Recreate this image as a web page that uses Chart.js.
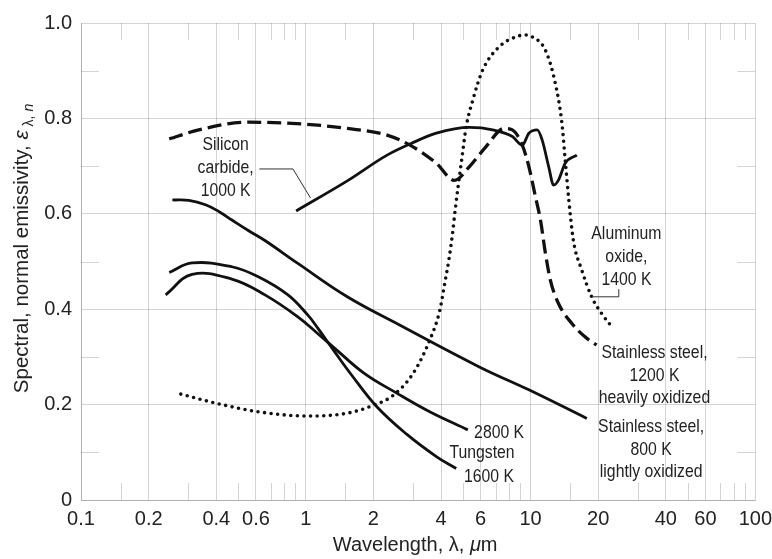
<!DOCTYPE html>
<html>
<head>
<meta charset="utf-8">
<script src="https://cdn.jsdelivr.net/npm/chart.js@4.4.1/dist/chart.umd.min.js"></script>
<style>
  html, body { margin: 0; padding: 0; background: #fff; overflow: hidden; }
  #wrap { width: 772px; height: 559px; }
</style>
</head>
<body>
<div id="wrap"><canvas id="c" width="772" height="559"></canvas></div>
<script>
// Axis ticks
const xTickValues = [0.1, 0.2, 0.4, 0.6, 1, 2, 4, 6, 10, 20, 40, 60, 100];
const xMinorTicks = [0.15, 0.3, 0.5, 0.7, 0.8, 0.9, 1.5, 3, 5, 7, 8, 9, 15, 30, 50, 70, 80, 90];
const yTickValues = [0, 0.2, 0.4, 0.6, 0.8, 1.0];
const yMinorTicks = [0.1, 0.3, 0.5, 0.7, 0.9];

// Stainless steel, 1200 K, heavily oxidized (dashed)
const ss1200Wavelength = [0.247, 0.334, 0.555, 0.99, 1.53, 2.30, 2.96, 3.81, 4.58, 5.35, 6.34, 7.63, 8.30, 9.19, 9.83, 10.5, 11.07, 11.64, 12.25, 13.28, 15.27, 17.47, 19.68];
const ss1200Emissivity = [0.757, 0.776, 0.792, 0.788, 0.779, 0.765, 0.742, 0.706, 0.670, 0.699, 0.741, 0.779, 0.776, 0.744, 0.699, 0.637, 0.587, 0.518, 0.461, 0.413, 0.370, 0.342, 0.325];

// Silicon carbide, 1000 K
const sicWavelength = [0.906, 1.53, 2.30, 2.96, 3.81, 5.35, 6.78, 8.30, 9.19, 9.83, 10.71, 11.26, 12.04, 12.67, 13.33, 14.26, 16.07];
const sicEmissivity = [0.606, 0.669, 0.723, 0.748, 0.769, 0.781, 0.776, 0.762, 0.744, 0.769, 0.776, 0.755, 0.699, 0.660, 0.671, 0.706, 0.723];

// Aluminum oxide, 1400 K (dotted)
const aloWavelength = [0.278, 0.398, 0.615, 1.02, 1.53, 2.01, 2.46, 3.01, 3.56, 3.95, 4.14, 4.33, 4.49, 4.62, 4.77, 4.97, 5.17, 5.54, 6.12, 7.25, 8.88, 9.5, 10.18, 11.64, 12.88, 13.79, 14.26, 14.8, 15.5, 16.9, 18.7, 20.7, 23.3];
const aloEmissivity = [0.222, 0.203, 0.185, 0.176, 0.182, 0.199, 0.220, 0.266, 0.335, 0.398, 0.451, 0.503, 0.556, 0.608, 0.660, 0.723, 0.782, 0.839, 0.901, 0.950, 0.973, 0.975, 0.971, 0.943, 0.874, 0.790, 0.713, 0.629, 0.545, 0.482, 0.426, 0.391, 0.360];

// Stainless steel, 800 K, lightly oxidized
const ss800Wavelength = [0.255, 0.302, 0.358, 0.410, 0.469, 0.555, 0.658, 0.922, 1.53, 2.54, 5.92, 9.83, 17.8];
const ss800Emissivity = [0.629, 0.628, 0.619, 0.605, 0.587, 0.565, 0.544, 0.496, 0.426, 0.370, 0.279, 0.231, 0.171];

// Tungsten, 2800 K
const w2800Wavelength = [0.238, 0.312, 0.469, 0.658, 0.922, 1.129, 1.338, 1.814, 2.54, 3.56, 5.26];
const w2800Emissivity = [0.430, 0.473, 0.463, 0.430, 0.384, 0.349, 0.319, 0.266, 0.224, 0.185, 0.147];

// Tungsten, 1600 K
const w1600Wavelength = [0.247, 0.312, 0.469, 0.615, 0.833, 1.02, 1.129, 1.338, 1.611, 2.076, 2.81, 3.81, 4.67];
const w1600Emissivity = [0.477, 0.497, 0.489, 0.468, 0.430, 0.388, 0.361, 0.312, 0.260, 0.195, 0.138, 0.091, 0.066];

const pairs = (xs, ys) => xs.map((x, i) => ({ x: x, y: ys[i] }));

const SANS = '"Liberation Sans", Arial, Helvetica, sans-serif';
const GRID = 'rgba(0,0,0,0.17)';
const INK = '#111';
const TEXT = '#222';

// Curve labels, anchored in data units (first line centre), with line spacing in px
const curveNotes = [
  { lines: ['Silicon', 'carbide,', '1000 K'], x: 0.44, y: 0.744, align: 'center', step: 23 },
  { lines: ['Aluminum', 'oxide,', '1400 K'], x: 26.7, y: 0.558, align: 'center', step: 23 },
  { lines: ['Stainless steel,', '1200 K', 'heavily oxidized'], x: 35.6, y: 0.308, align: 'center', step: 22.5 },
  { lines: ['Stainless steel,', '800 K', 'lightly oxidized'], x: 34.4, y: 0.153, align: 'center', step: 22.5 },
  { lines: ['2800 K'], x: 5.61, y: 0.140, align: 'left', step: 0 },
  { lines: ['Tungsten'], x: 6.08, y: 0.099, align: 'center', step: 0 },
  { lines: ['1600 K'], x: 6.53, y: 0.048, align: 'center', step: 0 }
];

// Thin leader lines tying labels to curves (data units)
const leaders = [
  [[0.621, 0.694], [0.877, 0.694], [1.05, 0.633]],
  [[18.75, 0.426], [24.7, 0.426], [24.7, 0.442]]
];

const minorTicksPlugin = {
  id: 'minorTicks',
  beforeDatasetsDraw(chart) {
    const { ctx, chartArea: a, scales: { x, y } } = chart;
    ctx.save();
    ctx.strokeStyle = GRID;
    ctx.lineWidth = 1;
    ctx.beginPath();
    xMinorTicks.forEach(v => {
      const px = Math.round(x.getPixelForValue(v)) + 0.5;
      ctx.moveTo(px, a.top); ctx.lineTo(px, a.top + 17);
      ctx.moveTo(px, a.bottom); ctx.lineTo(px, a.bottom - 17);
    });
    yMinorTicks.forEach(v => {
      const py = Math.round(y.getPixelForValue(v)) + 0.5;
      ctx.moveTo(a.left, py); ctx.lineTo(a.left + 18, py);
      ctx.moveTo(a.right, py); ctx.lineTo(a.right - 18, py);
    });
    ctx.stroke();
    ctx.restore();
  }
};

function drawSegments(ctx, segs, cx, cy) {
  let total = 0;
  segs.forEach(s => { ctx.font = s.font; s.w = ctx.measureText(s.text).width; total += s.w; });
  let pos = cx - total / 2;
  segs.forEach(s => {
    ctx.font = s.font;
    ctx.fillText(s.text, pos, cy + (s.dy || 0));
    pos += s.w;
  });
}

// condensed lettering: regular face squeezed horizontally
function narrowText(ctx, text, px, py, align) {
  ctx.save();
  ctx.translate(px, py);
  ctx.scale(0.83, 1);
  ctx.textAlign = align;
  ctx.fillText(text, 0, 0);
  ctx.restore();
}

const annotationPlugin = {
  id: 'notes',
  afterDatasetsDraw(chart) {
    const { ctx, chartArea: a, scales: { x, y } } = chart;
    ctx.save();
    ctx.strokeStyle = '#333';
    ctx.lineWidth = 1;
    leaders.forEach(path => {
      ctx.beginPath();
      path.forEach((p, i) => {
        const px = x.getPixelForValue(p[0]), py = y.getPixelForValue(p[1]);
        if (i === 0) ctx.moveTo(px, py); else ctx.lineTo(px, py);
      });
      ctx.stroke();
    });

    ctx.fillStyle = TEXT;
    ctx.font = '19px ' + SANS;
    ctx.textBaseline = 'middle';
    curveNotes.forEach(n => {
      const px = x.getPixelForValue(n.x), py = y.getPixelForValue(n.y);
      n.lines.forEach((t, i) => narrowText(ctx, t, px, py + i * n.step, n.align));
    });

    // axis titles
    ctx.textAlign = 'left';
    ctx.textBaseline = 'middle';
    drawSegments(ctx, [
      { text: 'Wavelength, λ, ', font: '20px ' + SANS },
      { text: 'μ', font: 'italic 20px ' + SANS },
      { text: 'm', font: '20px ' + SANS }
    ], (a.left + a.right) / 2 - 3, 545);

    ctx.translate(22, (a.top + a.bottom) / 2 - 13);
    ctx.rotate(-Math.PI / 2);
    drawSegments(ctx, [
      { text: 'Spectral, normal emissivity, ', font: '20.5px ' + SANS },
      { text: 'ε', font: 'italic 21px ' + SANS },
      { text: ' λ, ', font: '14px ' + SANS, dy: 7 },
      { text: 'n', font: 'italic 14px ' + SANS, dy: 7 }
    ], 0, 0);
    ctx.restore();
  }
};

const curve = (label, data, extra) => Object.assign({
  label, data, borderColor: INK, borderWidth: 2.8, pointRadius: 0,
  cubicInterpolationMode: 'monotone', fill: false
}, extra || {});

const smooth = { cubicInterpolationMode: 'default', tension: 0.4 };

new Chart(document.getElementById('c'), {
  type: 'line',
  data: {
    datasets: [
      curve('Stainless steel, 1200 K, heavily oxidized', pairs(ss1200Wavelength, ss1200Emissivity),
        { borderDash: [14, 6], borderWidth: 3.3 }),
      curve('Silicon carbide, 1000 K', pairs(sicWavelength, sicEmissivity)),
      curve('Aluminum oxide, 1400 K', pairs(aloWavelength, aloEmissivity),
        { borderDash: [0, 6.6], borderWidth: 3.6, borderCapStyle: 'round' }),
      curve('Stainless steel, 800 K, lightly oxidized', pairs(ss800Wavelength, ss800Emissivity), smooth),
      curve('Tungsten, 2800 K', pairs(w2800Wavelength, w2800Emissivity), smooth),
      curve('Tungsten, 1600 K', pairs(w1600Wavelength, w1600Emissivity), smooth)
    ]
  },
  options: {
    responsive: false,
    animation: false,
    devicePixelRatio: 1,
    layout: { padding: { top: 23, right: 10, left: 0, bottom: 0 } },
    plugins: { legend: { display: false }, tooltip: { enabled: false } },
    elements: { point: { radius: 0 } },
    scales: {
      x: {
        type: 'logarithmic', min: 0.1, max: 100,
        afterBuildTicks(s) { s.ticks = xTickValues.map(v => ({ value: v })); },
        afterFit(s) { s.height = 59; },
        ticks: {
          callback: v => String(v),
          font: { family: SANS, size: 20 }, color: TEXT,
          padding: 0, maxRotation: 0, autoSkip: false
        },
        grid: { color: GRID, lineWidth: 1, drawTicks: true, tickLength: 7, tickColor: 'rgba(0,0,0,0)' },
        border: { color: GRID }
      },
      y: {
        min: 0, max: 1,
        afterBuildTicks(s) { s.ticks = yTickValues.map(v => ({ value: v })); },
        afterFit(s) { s.width = 81; },
        ticks: {
          callback: v => (v === 0 ? '0' : v.toFixed(1)),
          font: { family: SANS, size: 20 }, color: TEXT, padding: 9
        },
        grid: { color: GRID, lineWidth: 1, drawTicks: false },
        border: { color: GRID }
      }
    }
  },
  plugins: [minorTicksPlugin, annotationPlugin]
});
</script>
</body>
</html>
